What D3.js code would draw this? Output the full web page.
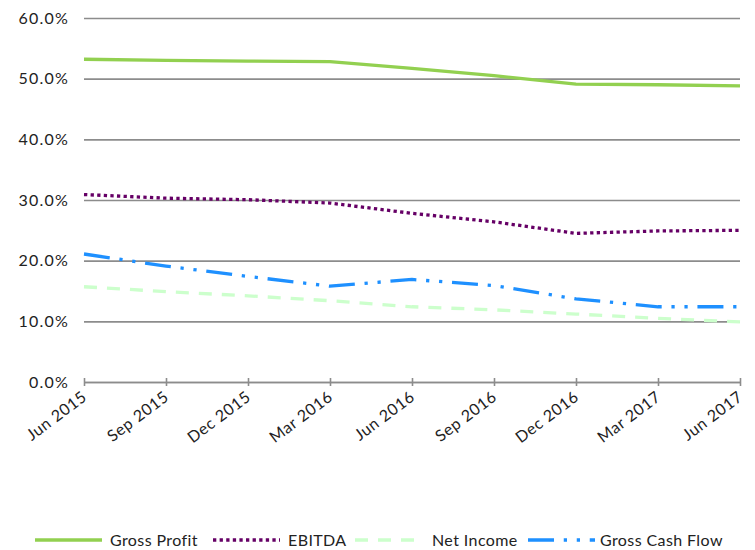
<!DOCTYPE html>
<html>
<head>
<meta charset="utf-8">
<script src="https://cdn.jsdelivr.net/npm/d3@7"></script>
<style>
  body { margin: 0; background: #fff; }
  text { font-family: Lato, "Noto Sans", sans-serif; fill: #222; }
</style>
</head>
<body>
<script>
const periods = ["Jun 2015", "Sep 2015", "Dec 2015", "Mar 2016", "Jun 2016", "Sep 2016", "Dec 2016", "Mar 2017", "Jun 2017"];
const grossProfit = [53.2, 53.0, 52.9, 52.8, 51.7, 50.5, 49.1, 49.0, 48.8];
const ebitda = [30.9, 30.3, 30.05, 29.5, 27.8, 26.4, 24.5, 24.9, 25.0];
const netIncome = [15.7, 14.9, 14.2, 13.4, 12.4, 11.9, 11.2, 10.5, 9.9];
const grossCashFlow = [21.1, 19.1, 17.4, 15.8, 16.9, 15.9, 13.7, 12.4, 12.4];
const yTicks = [0, 10, 20, 30, 40, 50, 60];

const series = [
    { name: "Gross Profit", values: grossProfit, color: "#92d050", dash: null },
    { name: "EBITDA", values: ebitda, color: "#660066", dash: "3.3,3.3" },
    { name: "Net Income", values: netIncome, color: "#ccffcc", dash: "13,10" },
    { name: "Gross Cash Flow", values: grossCashFlow, color: "#1e90ff", dash: "26,9.75,3.25,9.75,3.25,9.75" }
];

const width = 755;
const height = 550;
const margin = { top: 18, right: 15, bottom: 168, left: 84 };

const svg = d3.select("body").append("svg")
    .attr("width", width)
    .attr("height", height);

const x = d3.scalePoint()
    .domain(periods)
    .range([margin.left, width - margin.right]);

const y = d3.scaleLinear()
    .domain([0, 60])
    .range([height - margin.bottom, margin.top]);

// gridlines + y labels
const yAxis = d3.axisLeft(y)
    .tickValues(yTicks)
    .tickSize(-(x.range()[1] - x.range()[0]))
    .tickFormat(d => d.toFixed(1) + "%");

svg.append("g")
    .attr("transform", `translate(${margin.left}, 0)`)
    .call(yAxis)
    .call(g => g.select(".domain").remove())
    .call(g => g.selectAll(".tick line").attr("stroke", "#8c8c8c").attr("stroke-width", 1.6))
    .call(g => g.selectAll(".tick text")
        .attr("font-size", 16)
        .attr("letter-spacing", 1.2)
        .attr("x", -15));

// x axis with cross ticks
const xAxis = d3.axisBottom(x).tickSizeOuter(0).tickFormat("");

const xg = svg.append("g")
    .attr("transform", `translate(0, ${y(0)})`)
    .call(xAxis);
xg.select(".domain").attr("stroke", "#8c8c8c").attr("stroke-width", 1.6);
xg.selectAll(".tick line").attr("y1", -4).attr("y2", 4).attr("stroke", "#8c8c8c").attr("stroke-width", 1.6);

svg.append("g").selectAll("text")
    .data(periods)
    .join("text")
    .attr("transform", d => `translate(${x(d) + 4}, ${y(0) + 17}) rotate(-37)`)
    .attr("text-anchor", "end")
    .attr("font-size", 16)
    .attr("letter-spacing", 0.6)
    .text(d => d);

// lines
const line = d3.line()
    .x((d, i) => x(periods[i]))
    .y(d => y(d));

svg.append("g").selectAll("path")
    .data(series)
    .join("path")
    .attr("fill", "none")
    .attr("stroke", d => d.color)
    .attr("stroke-width", 3.3)
    .attr("stroke-dasharray", d => d.dash)
    .attr("d", d => line(d.values));

// legend
const legendItems = [
    { x: 35, textX: 110 },
    { x: 213, textX: 288 },
    { x: 355, textX: 432 },
    { x: 528, textX: 600 }
];
const legendY = 540;

const legend = svg.append("g").selectAll("g")
    .data(series)
    .join("g");

legend.append("line")
    .attr("x1", (d, i) => legendItems[i].x)
    .attr("x2", (d, i) => legendItems[i].x + 67)
    .attr("y1", legendY)
    .attr("y2", legendY)
    .attr("stroke", d => d.color)
    .attr("stroke-width", 3.3)
    .attr("stroke-dasharray", d => d.dash);

legend.append("text")
    .attr("x", (d, i) => legendItems[i].textX)
    .attr("y", legendY + 6)
    .attr("font-size", 16)
    .attr("letter-spacing", 0.4)
    .text(d => d.name);
</script>
</body>
</html>
